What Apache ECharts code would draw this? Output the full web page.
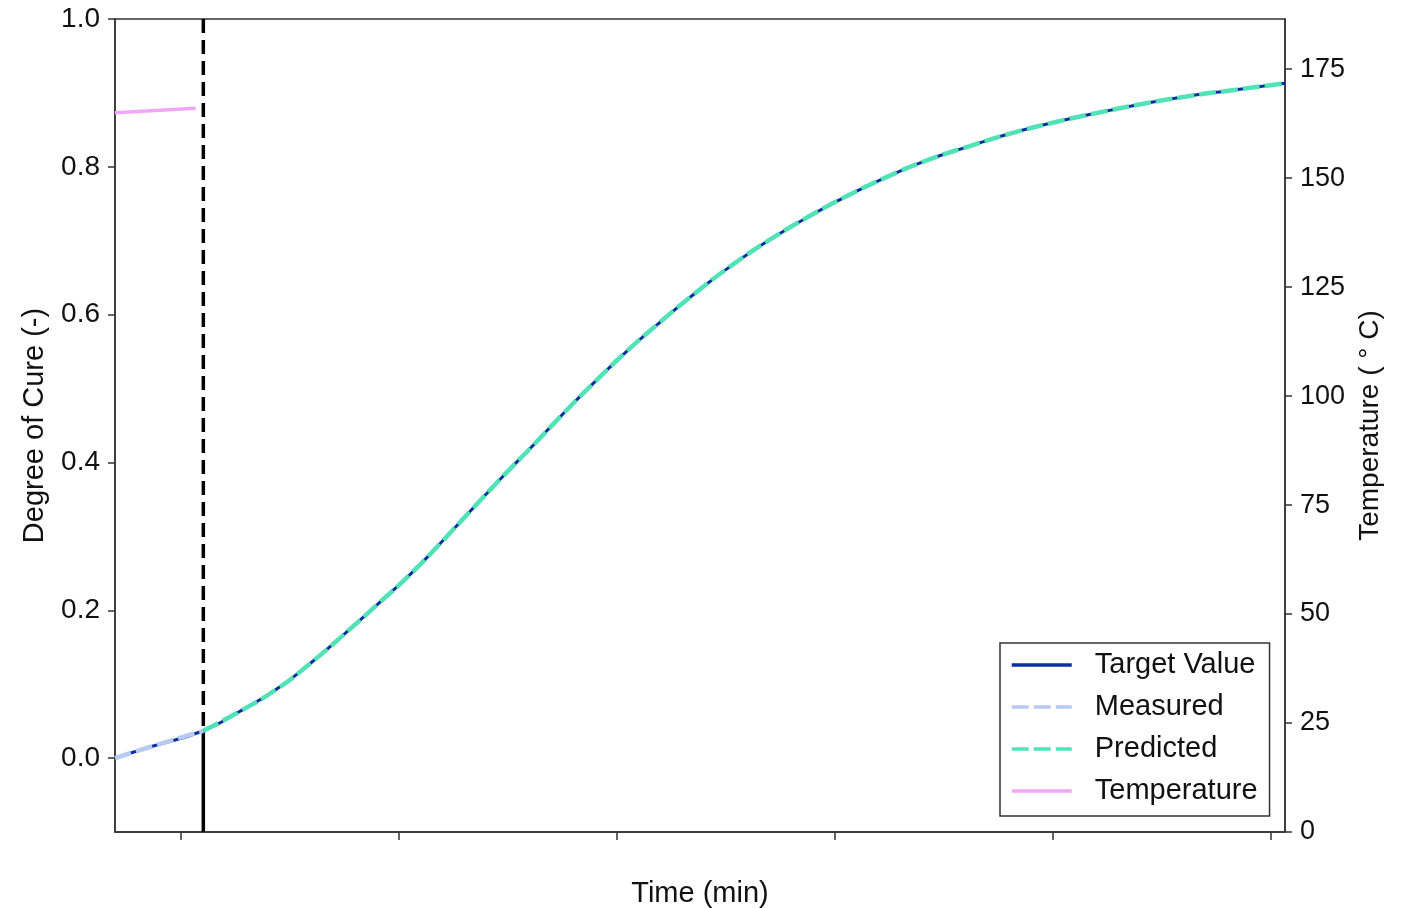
<!DOCTYPE html>
<html>
<head>
<meta charset="utf-8">
<title>Degree of Cure</title>
<script src="https://cdn.jsdelivr.net/npm/echarts@6/dist/echarts.min.js"></script>
<style>
    html, body { margin: 0; padding: 0; background: #fff; }
    #chart { width: 1408px; height: 908px; }
</style>
</head>
<body>
<div id="chart"></div>
<script>
// 数据 (读自参考图)
var time = [14.0, 17.2, 22.1, 25.3, 28.8, 31.9, 34.9, 38.0, 41.1, 43.8, 46.7, 49.5, 52.4, 55.1, 58.0, 60.9,
    64.0, 67.2, 70.4, 73.8, 77.3, 80.8, 84.6, 88.5, 92.4, 96.1, 100.1, 104.1, 108.2, 112.2, 116.1, 121.3];
var cure = [0.000, 0.015, 0.037, 0.062, 0.093, 0.128, 0.166, 0.207, 0.249, 0.290, 0.336, 0.380, 0.424, 0.466,
    0.509, 0.550, 0.590, 0.629, 0.665, 0.699, 0.730, 0.758, 0.785, 0.809, 0.828, 0.845, 0.860, 0.873,
    0.885, 0.895, 0.903, 0.913];
var tempTime = [14.0, 21.4];
var temperature = [165.0, 166.0];
var cutTime = 22.1;   // 测量/预测分界
var cutCure = 0.037;
var timeTicks = [20, 40, 60, 80, 100, 120];
var cureTicks = [0, 0.2, 0.4, 0.6, 0.8, 1.0];
var tempTicks = [0, 25, 50, 75, 100, 125, 150, 175];

(function() {
    var myChart = echarts.init(document.getElementById('chart'));

    var target = time.map(function(t, i) { return [t, cure[i]]; });
    var measured = target.filter(function(p) { return p[0] <= cutTime; });
    var predicted = target.filter(function(p) { return p[0] >= cutTime; });
    var temp = tempTime.map(function(t, i) { return [t, temperature[i]]; });

    var font = 'Liberation Sans, Arial, sans-serif';
    var axisColor = '#333';

    var option = {
        backgroundColor: '#fff',
        animation: false,
        grid: {
            left: 115,
            right: 123,
            top: 19,
            bottom: 76,
            outerBoundsMode: 'none',
            show: true,
            borderColor: axisColor,
            borderWidth: 1.5
        },
        legend: {
            data: ['Target Value', 'Measured', 'Predicted', 'Temperature'],
            orient: 'vertical',
            left: 1000,
            top: 643,
            padding: [7, 12, 10, 10],
            itemWidth: 60,
            itemHeight: 14,
            itemGap: 12,
            backgroundColor: '#fff',
            borderColor: '#333',
            borderWidth: 1.5,
            borderRadius: 0,
            itemStyle: { opacity: 0 },
            lineStyle: { width: 3.5 },
            textStyle: {
                fontFamily: font,
                fontSize: 29,
                color: '#111',
                lineHeight: 30,
                padding: [0, 0, 0, 18]
            }
        },
        xAxis: {
            type: 'value',
            min: 14,
            max: 121.3,
            name: 'Time (min)',
            nameLocation: 'middle',
            nameGap: 47,
            nameTextStyle: { fontFamily: font, fontSize: 29, color: '#111' },
            axisLine: { onZero: false, lineStyle: { color: axisColor, width: 1.5 } },
            axisTick: { show: true, length: 8, customValues: timeTicks, lineStyle: { color: axisColor, width: 1.5 } },
            axisLabel: { show: false },
            splitLine: { show: false }
        },
        yAxis: [{
            type: 'value',
            min: -0.1,
            max: 1.0,
            name: 'Degree of Cure (-)',
            nameLocation: 'middle',
            nameGap: 66,
            nameTextStyle: { fontFamily: font, fontSize: 29, color: '#111' },
            axisLine: { show: true, onZero: false, lineStyle: { color: axisColor, width: 1.5 } },
            axisTick: { show: true, length: 7, customValues: cureTicks, lineStyle: { color: axisColor, width: 1.5 } },
            axisLabel: {
                customValues: cureTicks,
                margin: 15,
                fontFamily: font,
                fontSize: 28,
                color: '#111',
                formatter: function(v) { return v.toFixed(1); }
            },
            splitLine: { show: false }
        }, {
            type: 'value',
            position: 'right',
            min: 0,
            max: 186.5,
            alignTicks: false,
            name: 'Temperature ( \u00b0 C)',
            nameLocation: 'middle',
            nameGap: 71,
            nameTextStyle: { fontFamily: font, fontSize: 28, color: '#111' },
            axisLine: { show: true, onZero: false, lineStyle: { color: axisColor, width: 1.5 } },
            axisTick: { show: true, length: 7, customValues: tempTicks, lineStyle: { color: axisColor, width: 1.5 } },
            axisLabel: {
                customValues: tempTicks,
                margin: 15,
                fontFamily: font,
                fontSize: 27,
                color: '#111'
            },
            splitLine: { show: false }
        }],
        series: [{
            // 分界线 (虚线部分)
            type: 'line',
            silent: true,
            symbol: 'none',
            data: [[cutTime, 1.0], [cutTime, cutCure]],
            lineStyle: { color: '#000', width: 3.5, type: [14, 7] },
            z: 1
        }, {
            // 分界线 (实线部分)
            type: 'line',
            silent: true,
            symbol: 'none',
            data: [[cutTime, cutCure], [cutTime, -0.1]],
            lineStyle: { color: '#000', width: 3.5 },
            z: 1
        }, {
            name: 'Target Value',
            type: 'line',
            symbol: 'none',
            smooth: 0.5,
            data: target,
            color: '#0a2fa0',
            lineStyle: { color: '#0a2fa0', width: 3 },
            z: 2
        }, {
            name: 'Measured',
            type: 'line',
            symbol: 'none',
            smooth: 0.5,
            data: measured,
            color: '#b8c9f2',
            lineStyle: { color: '#b8c9f2', width: 4.5, type: [17, 5] },
            z: 3
        }, {
            name: 'Predicted',
            type: 'line',
            symbol: 'none',
            smooth: 0.5,
            data: predicted,
            color: '#52e2b8',
            lineStyle: { color: '#52e2b8', width: 4.5, type: [17, 5] },
            z: 3
        }, {
            name: 'Temperature',
            type: 'line',
            yAxisIndex: 1,
            symbol: 'none',
            data: temp,
            color: '#f2a6f7',
            lineStyle: { color: '#f2a6f7', width: 3.5 },
            z: 3
        }]
    };

    myChart.setOption(option);
})();
</script>
</body>
</html>
